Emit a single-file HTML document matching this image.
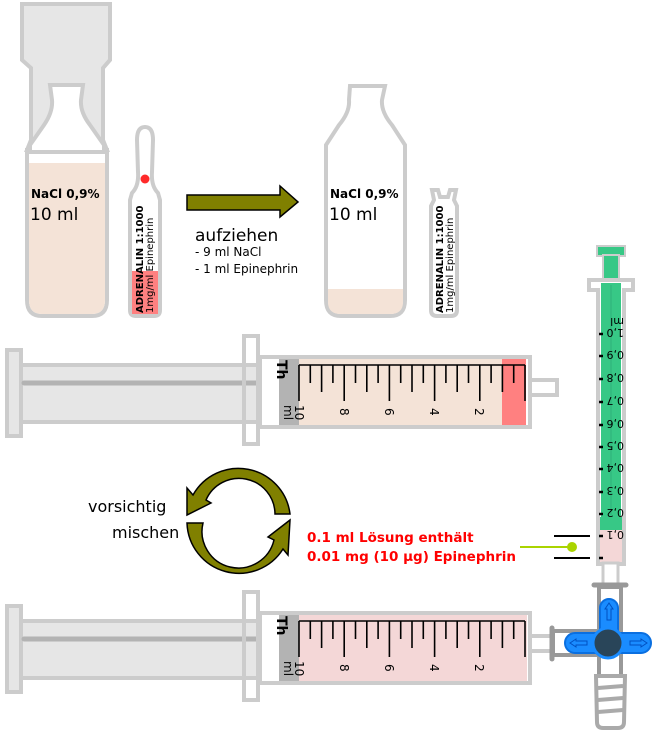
<!DOCTYPE html>
<html><head><meta charset="utf-8"><style>
html,body{margin:0;padding:0;background:#fff;}
svg{display:block;font-family:"DejaVu Sans","Liberation Sans",sans-serif;}
</style></head><body>
<svg width="656" height="734" viewBox="0 0 656 734" xmlns="http://www.w3.org/2000/svg">
<defs>
<g id="ticks" stroke="#000" stroke-width="1.6">
<line x1="299" y1="365" x2="525" y2="365"/>
<line x1="299" y1="365" x2="299" y2="401"/>
<line x1="310.3" y1="365" x2="310.3" y2="383"/>
<line x1="321.6" y1="365" x2="321.6" y2="392"/>
<line x1="332.9" y1="365" x2="332.9" y2="383"/>
<line x1="344.2" y1="365" x2="344.2" y2="401"/>
<line x1="355.5" y1="365" x2="355.5" y2="383"/>
<line x1="366.8" y1="365" x2="366.8" y2="392"/>
<line x1="378.1" y1="365" x2="378.1" y2="383"/>
<line x1="389.4" y1="365" x2="389.4" y2="401"/>
<line x1="400.7" y1="365" x2="400.7" y2="383"/>
<line x1="412" y1="365" x2="412" y2="392"/>
<line x1="423.3" y1="365" x2="423.3" y2="383"/>
<line x1="434.6" y1="365" x2="434.6" y2="401"/>
<line x1="445.9" y1="365" x2="445.9" y2="383"/>
<line x1="457.2" y1="365" x2="457.2" y2="392"/>
<line x1="468.5" y1="365" x2="468.5" y2="383"/>
<line x1="479.8" y1="365" x2="479.8" y2="401"/>
<line x1="491.1" y1="365" x2="491.1" y2="383"/>
<line x1="502.4" y1="365" x2="502.4" y2="392"/>
<line x1="513.7" y1="365" x2="513.7" y2="383"/>
<line x1="525" y1="365" x2="525" y2="401"/>
</g>
<g id="labels" font-size="12" fill="#000">
<text transform="translate(295,405) rotate(90)">10</text>
<text transform="translate(340,408) rotate(90)">8</text>
<text transform="translate(385,408) rotate(90)">6</text>
<text transform="translate(430,408) rotate(90)">4</text>
<text transform="translate(475,408) rotate(90)">2</text>
<text transform="translate(284,405) rotate(90)" font-size="12">ml</text>
<text transform="translate(277,360) rotate(90)" font-size="14" font-weight="bold">Th</text>
</g>
<g id="syr">
<rect x="7" y="350" width="14" height="86" fill="#e6e6e6" stroke="#ccc" stroke-width="4"/>
<rect x="21" y="365" width="262" height="57" fill="#e6e6e6" stroke="#ccc" stroke-width="4"/>
<line x1="24" y1="383" x2="257" y2="383" stroke="#b3b3b3" stroke-width="5" stroke-linecap="round"/>
<rect x="244" y="336" width="14" height="108" fill="none" stroke="#ccc" stroke-width="4"/>
<rect x="528" y="380" width="29" height="15" fill="#fff" stroke="#ccc" stroke-width="4"/>
</g>
</defs>

<!-- Left vial -->
<path d="M22,4 L110,4 L110,60 L103,68 L103,140 L107,150 L27,150 L31,140 L31,68 L22,60 Z" fill="#e6e6e6" stroke="#ccc" stroke-width="4"/>
<path d="M27,150 L107,150 L107,300 Q107,316 92,316 L42,316 Q27,316 27,300 Z" fill="#fff" stroke="#ccc" stroke-width="4"/>
<path d="M50,85 L83,85 L81,100 Q80,112 90,125 L104,145 L104,152 L30,152 L30,145 L44,125 Q53,112 52,100 Z" fill="#fff" stroke="#ccc" stroke-width="4"/>
<path d="M29,163 L105,163 L105,300 Q105,314 92,314 L42,314 Q29,314 29,300 Z" fill="#f4e3d7"/>
<text x="31" y="198" font-size="12" font-weight="bold">NaCl 0,9%</text>
<text x="30" y="220" font-size="17">10 ml</text>

<!-- Left ampoule -->
<path d="M145,127 Q153,127 153,140 L152,172 Q151,186 158,193 L160,200 L160,310 Q160,316 154,316 L136,316 Q130,316 130,310 L130,200 L132,193 Q139,186 138,172 L137,140 Q137,127 145,127 Z" fill="#fff" stroke="#ccc" stroke-width="4"/>
<rect x="132" y="271" width="26" height="43" fill="#ff8080"/>
<circle cx="145" cy="179" r="4.5" fill="#ff2a2a"/>
<text transform="translate(143,313) rotate(-90)" font-size="10" font-weight="bold">ADRENALIN 1:1000</text>
<text transform="translate(153,313) rotate(-90)" font-size="10">1mg/ml Epinephrin</text>

<!-- big arrow -->
<path d="M187,195 L280,195 L280,186 L298,202 L280,217 L280,210 L187,210 Z" fill="#808000" stroke="#000" stroke-width="1.5"/>
<text x="195" y="241" font-size="17">aufziehen</text>
<text x="195" y="256" font-size="12">- 9 ml NaCl</text>
<text x="195" y="273" font-size="12">- 1 ml Epinephrin</text>

<!-- Right vial -->
<path d="M350,86 L385,86 L382,100 Q381,112 392,125 L405,145 L405,300 Q405,316 390,316 L341,316 Q326,316 326,300 L326,145 L339,125 Q350,112 349,100 Z" fill="#fff" stroke="#ccc" stroke-width="4"/>
<path d="M328,289 L403,289 L403,302 Q403,314 390,314 L341,314 Q328,314 328,302 Z" fill="#f4e3d7"/>
<text x="330" y="198" font-size="12" font-weight="bold">NaCl 0,9%</text>
<text x="329" y="220" font-size="17">10 ml</text>

<!-- right ampoule -->
<path d="M432,190 L438,190 L440,197 L448,197 L450,190 L456,190 L454,200 L457,206 L457,310 Q457,316 451,316 L437,316 Q431,316 431,310 L431,206 L434,200 Z" fill="#fff" stroke="#ccc" stroke-width="4"/>
<text transform="translate(443,313) rotate(-90)" font-size="10" font-weight="bold">ADRENALIN 1:1000</text>
<text transform="translate(453,313) rotate(-90)" font-size="10">1mg/ml Epinephrin</text>

<!-- Top syringe -->
<use href="#syr"/>
<rect x="260" y="357" width="270" height="70" fill="#fff" stroke="#ccc" stroke-width="4"/>
<rect x="279" y="359" width="20" height="66" fill="#b3b3b3"/>
<rect x="299" y="359" width="203" height="66" fill="#f4e3d7"/>
<rect x="502" y="359" width="24" height="66" fill="#ff8080"/>
<use href="#ticks"/>
<use href="#labels"/>

<!-- Bottom syringe -->
<g transform="translate(0,256)">
<use href="#syr"/>
<rect x="260" y="357" width="270" height="70" fill="#fff" stroke="#ccc" stroke-width="4"/>
<rect x="279" y="359" width="20" height="66" fill="#b3b3b3"/>
<rect x="299" y="359" width="228" height="66" fill="#f4d7d7"/>
<use href="#ticks"/>
<use href="#labels"/>
</g>

<!-- mixing arrows -->
<g fill="#808000" stroke="#000" stroke-width="1.5">
<path d="M290,514 A52,52 0 0 0 193,495 L187,488 L187,515 L211,503 L206,500 A36,36 0 0 1 275,514 Z"/>
<path d="M187,523 A52,52 0 0 0 283,549 L288,555 L290,520 L268,537 L274,540 A36,36 0 0 1 203,523 Z"/>
</g>
<text x="88" y="512" font-size="16">vorsichtig</text>
<text x="112" y="538" font-size="16">mischen</text>

<text x="307" y="542" font-size="13.5" font-weight="bold" fill="#ff0000">0.1 ml Lösung enthält</text>
<text x="307" y="561" font-size="13.5" font-weight="bold" fill="#ff0000">0.01 mg (10 µg) Epinephrin</text>

<!-- vertical 1ml syringe -->
<rect x="597" y="246" width="28" height="10" fill="#37c886" stroke="#ccc" stroke-width="2"/>
<rect x="603" y="255" width="16" height="25" fill="#37c886" stroke="#ccc" stroke-width="2"/>
<path d="M589,280 L633,280 L633,290 L624,290 L624,564 L598,564 L598,290 L589,290 Z" fill="#fff" stroke="#ccc" stroke-width="4"/>
<rect x="601" y="283" width="20" height="234" fill="#37c886"/>
<line x1="611" y1="285" x2="611" y2="515" stroke="#2fb07a" stroke-width="1"/>
<rect x="600" y="517" width="22" height="13" fill="#37c886"/>
<rect x="600" y="530" width="22" height="32" fill="#f4d7d7"/>
<g stroke="#000" stroke-width="2.5">
<line x1="599" y1="334" x2="603" y2="334"/><line x1="599" y1="356" x2="603" y2="356"/>
<line x1="599" y1="379" x2="603" y2="379"/><line x1="599" y1="402" x2="603" y2="402"/>
<line x1="599" y1="425" x2="603" y2="425"/><line x1="599" y1="447" x2="603" y2="447"/>
<line x1="599" y1="469" x2="603" y2="469"/><line x1="599" y1="492" x2="603" y2="492"/>
<line x1="599" y1="514" x2="603" y2="514"/><line x1="599" y1="536" x2="603" y2="536"/>
<line x1="599" y1="558" x2="603" y2="558"/>
</g>
<g font-size="11" fill="#000">
<text transform="translate(624,318) rotate(180)">ml</text>
<text transform="translate(624,329) rotate(180)">1,0</text>
<text transform="translate(624,351) rotate(180)">0,9</text>
<text transform="translate(624,374) rotate(180)">0,8</text>
<text transform="translate(624,397) rotate(180)">0,7</text>
<text transform="translate(624,420) rotate(180)">0,6</text>
<text transform="translate(624,442) rotate(180)">0,5</text>
<text transform="translate(624,464) rotate(180)">0,4</text>
<text transform="translate(624,487) rotate(180)">0,3</text>
<text transform="translate(624,509) rotate(180)">0,2</text>
<text transform="translate(624,531) rotate(180)">0,1</text>
</g>
<line x1="554" y1="536" x2="590" y2="536" stroke="#000" stroke-width="2"/>
<line x1="554" y1="558" x2="590" y2="558" stroke="#000" stroke-width="2"/>
<line x1="520" y1="547" x2="572" y2="547" stroke="#aad400" stroke-width="2"/>
<circle cx="572" cy="547" r="5" fill="#aad400"/>

<!-- stopcock -->
<rect x="603" y="563" width="15" height="22" fill="#fff" stroke="#ccc" stroke-width="3"/>
<line x1="594" y1="585" x2="626" y2="585" stroke="#999" stroke-width="5" stroke-linecap="round"/>
<rect x="599" y="587" width="22" height="90" fill="#fff" stroke="#999" stroke-width="4"/>
<rect x="553" y="631" width="48" height="24" fill="#fff" stroke="#999" stroke-width="4"/>
<line x1="552" y1="628" x2="552" y2="659" stroke="#999" stroke-width="5" stroke-linecap="round"/>
<path d="M596,676 L625,676 L624,722 Q624,728 618,728 L603,728 Q597,728 597,722 Z" fill="#fff" stroke="#aaa" stroke-width="4"/>
<g stroke="#aaa" stroke-width="4"><line x1="598" y1="688" x2="623" y2="686"/><line x1="598" y1="700" x2="623" y2="698"/><line x1="598" y1="712" x2="623" y2="710"/></g>
<g fill="#1a8cff" stroke="#0a6fe0" stroke-width="2">
<rect x="600" y="599" width="18" height="50" rx="9"/>
<rect x="565" y="633" width="86" height="20" rx="10"/>
</g>
<circle cx="608" cy="643" r="15" fill="#294559" stroke="#1a8cff" stroke-width="3"/>
<g fill="none" stroke="#0050c0" stroke-width="1">
<path d="M609,603 L613,609 L611,609 L611,620 L607,620 L607,609 L605,609 Z"/>
<path d="M570,643 L576,639 L576,641 L587,641 L587,645 L576,645 L576,647 Z"/>
<path d="M647,643 L641,639 L641,641 L630,641 L630,645 L641,645 L641,647 Z"/>
</g>
</svg>
</body></html>
